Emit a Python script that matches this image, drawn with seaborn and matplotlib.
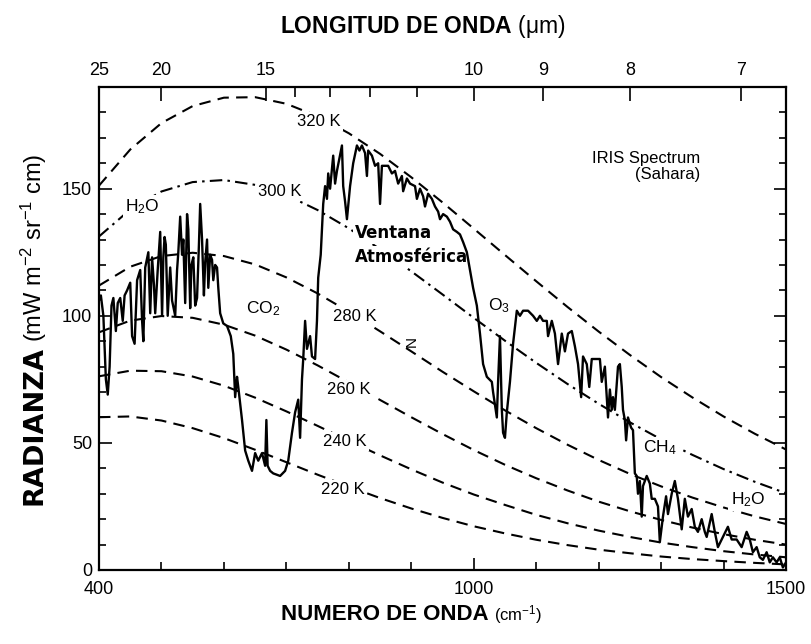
import matplotlib
matplotlib.use("Agg")
import matplotlib.pyplot as plt
import seaborn as sns

sns.set_theme(style="ticks")
plt.rcParams['font.family'] = ['Liberation Sans', 'DejaVu Sans']
plt.rcParams['mathtext.fontset'] = 'custom'
plt.rcParams['mathtext.rm'] = 'Liberation Sans'
plt.rcParams['mathtext.it'] = 'Liberation Sans:italic'
plt.rcParams['mathtext.bf'] = 'Liberation Sans:bold'
plt.rcParams['text.color'] = 'black'
plt.rcParams['axes.labelcolor'] = 'black'
plt.rcParams['xtick.color'] = 'black'
plt.rcParams['ytick.color'] = 'black'

# ---------------- data ----------------
planck_wn = [400, 450, 500, 550, 600, 650, 700, 750, 800, 850, 900, 950,
             1000, 1050, 1100, 1150, 1200, 1250, 1300, 1350, 1400, 1450, 1500]
b320 = [151.2, 165.4, 175.8, 182.5, 185.8, 186.0, 183.4, 178.5, 171.8, 163.7, 154.5, 144.6,
        134.3, 123.9, 113.6, 103.5, 93.8, 84.6, 75.9, 67.9, 60.4, 53.6, 47.4]
b300 = [131.2, 141.8, 148.9, 152.6, 153.4, 151.5, 147.5, 141.6, 134.4, 126.2, 117.5, 108.4,
        99.2, 90.2, 81.5, 73.2, 65.4, 58.1, 51.4, 45.3, 39.7, 34.7, 30.2]
b280 = [111.9, 119.3, 123.5, 124.8, 123.5, 120.2, 115.1, 108.8, 101.6, 93.9, 86.0, 78.0,
        70.3, 62.8, 55.8, 49.3, 43.3, 37.8, 32.9, 28.5, 24.6, 21.1, 18.1]
b260 = [93.5, 98.1, 99.9, 99.2, 96.5, 92.2, 86.7, 80.5, 73.8, 66.9, 60.1, 53.5,
        47.2, 41.4, 36.1, 31.3, 26.9, 23.1, 19.7, 16.7, 14.1, 11.9, 10.0]
b240 = [76.2, 78.4, 78.2, 76.1, 72.5, 67.8, 62.4, 56.7, 50.8, 45.1, 39.6, 34.4,
        29.7, 25.6, 21.7, 18.4, 15.5, 13.0, 10.8, 9.0, 7.4, 6.1, 5.0]
b220 = [60.1, 60.4, 58.8, 55.8, 51.9, 47.3, 42.4, 37.5, 32.8, 28.3, 24.2, 20.5,
        17.2, 14.4, 11.9, 9.8, 8.0, 6.6, 5.3, 4.3, 3.5, 2.8, 2.2]

spec_wn = [
    400, 403, 407, 411, 414, 417, 420, 423, 427, 430,
    434, 438, 441, 445, 450, 453, 457, 461, 466, 469,
    471, 474, 479, 482, 485, 488, 490, 494, 498, 501,
    503, 505, 507, 510, 514, 517, 522, 525, 527, 530,
    533, 535, 538, 541, 543, 546, 548, 551, 554, 557,
    560, 562, 565, 568, 570, 573, 575, 578, 581, 583,
    586, 589, 591, 594, 599, 605, 611, 615, 618, 621,
    623, 629, 634, 639, 645, 650, 655, 661, 666, 668,
    670, 674, 679, 690, 698, 703, 709, 714, 719, 722,
    725, 727, 730, 733, 738, 741, 746, 749, 751, 755,
    759, 762, 765, 767, 770, 775, 778, 781, 785, 789,
    791, 794, 797, 800, 802, 807, 813, 817, 821, 826,
    829, 831, 837, 842, 847, 850, 853, 858, 863, 869,
    874, 879, 885, 887, 893, 898, 906, 909, 914, 919,
    922, 927, 933, 938, 943, 946, 951, 957, 962, 967,
    973, 978, 983, 989, 994, 999, 1005, 1010, 1015, 1021,
    1029, 1031, 1037, 1039, 1042, 1045, 1047, 1050, 1053, 1058,
    1063, 1069, 1074, 1079, 1087, 1095, 1101, 1106, 1111, 1117,
    1119, 1125, 1130, 1135, 1141, 1146, 1151, 1157, 1162, 1167,
    1172, 1175, 1181, 1185, 1189, 1197, 1202, 1205, 1210, 1215,
    1218, 1221, 1223, 1226, 1231, 1234, 1237, 1239, 1242, 1244,
    1247, 1252, 1255, 1258, 1261, 1263, 1266, 1269, 1271, 1277,
    1282, 1285, 1290, 1295, 1298, 1303, 1308, 1311, 1317, 1322,
    1327, 1333, 1338, 1343, 1349, 1354, 1359, 1365, 1370, 1373,
    1381, 1386, 1391, 1399, 1407, 1413, 1421, 1429, 1437, 1442,
    1447, 1453, 1458, 1463, 1469, 1474, 1479, 1485, 1490, 1495,
    1500]
spec_rad = [
    106, 108, 100, 75, 69, 80, 104, 107, 94, 105,
    107, 98, 108, 110, 113, 92, 89, 114, 118, 98,
    90, 119, 125, 101, 123, 112, 101, 118, 133, 100,
    123, 131, 128, 100, 119, 106, 100, 118, 125, 139,
    124, 130, 105, 140, 134, 103, 120, 123, 104, 107,
    128, 144, 130, 108, 121, 130, 111, 124, 122, 114,
    120, 119, 111, 101, 97, 96, 92, 85, 68, 76,
    72, 59, 47, 43, 39, 46, 43, 46, 41, 59,
    41, 39, 38, 37, 39, 43, 54, 62, 67, 52,
    75, 83, 98, 87, 92, 84, 83, 98, 115, 124,
    144, 151, 146, 156, 150, 163, 152, 157, 162, 167,
    151, 145, 138, 146, 151, 160, 167, 165, 167, 164,
    155, 165, 163, 159, 160, 144, 159, 159, 159, 156,
    157, 152, 155, 149, 154, 152, 151, 146, 150, 147,
    143, 148, 146, 143, 141, 138, 140, 139, 137, 134,
    133, 132, 129, 125, 118, 111, 104, 93, 81, 76,
    74, 70, 60, 74, 92, 63, 54, 52, 62, 74,
    89, 102, 100, 102, 102, 100, 98, 100, 98, 98,
    92, 98, 93, 81, 93, 86, 93, 94, 88, 81,
    68, 84, 81, 72, 83, 83, 83, 74, 80, 60,
    71, 63, 68, 63, 80, 81, 72, 63, 59, 51,
    60, 56, 55, 38, 37, 30, 35, 21, 33, 37,
    34, 28, 28, 25, 11, 21, 29, 22, 30, 35,
    28, 16, 28, 21, 24, 17, 15, 20, 15, 13,
    22, 15, 9, 13, 17, 12, 12, 9, 15, 12,
    7, 9, 5, 4, 7, 3, 5, 3, 5, 1,
    3]

wavelength_ticks = [25, 20, 15, 10, 9, 8, 7]
wavelength_minor = [14, 13, 12, 11]
wn_ticks = [400, 1000, 1500]
wn_minor = [500, 600, 700, 800, 900, 1100, 1200, 1300, 1400]
y_ticks = [0, 50, 100, 150]
y_minor = [10, 20, 30, 40, 60, 70, 80, 90, 110, 120, 130, 140, 160, 170, 180]

curve_labels = [("320 K", 752, 176.4), ("300 K", 690, 149.0), ("280 K", 810, 99.6),
                ("260 K", 800, 71.0), ("240 K", 794, 50.4), ("220 K", 791, 31.5)]
gas_labels = [("H$_2$O", 469, 143), ("CO$_2$", 663, 103), ("O$_3$", 1040, 104),
              ("CH$_4$", 1298, 48), ("H$_2$O", 1439, 27.6)]

# ---------------- figure ----------------
W, H = 811, 644
fig = plt.figure(figsize=(W / 100, H / 100), dpi=100)
fig.patch.set_facecolor('white')
ax = fig.add_axes([99 / W, 1 - 570 / H, 687 / W, 483 / H])
ax.set_facecolor('white')

dash = (0, (5.5, 3.5))
for vals in [b320, b280, b260, b240, b220]:
    sns.lineplot(x=planck_wn, y=vals, ax=ax, color='black', linewidth=1.5,
                 linestyle=dash, estimator=None, sort=False, zorder=2)
sns.lineplot(x=planck_wn, y=b300, ax=ax, color='black', linewidth=1.5,
             linestyle=(0, (6, 2.5, 1.2, 2.5)), estimator=None, sort=False, zorder=2)

sns.lineplot(x=spec_wn, y=spec_rad, ax=ax, color='black', linewidth=1.7,
             estimator=None, sort=False, zorder=5)

box = dict(facecolor='white', edgecolor='none', pad=1.5)
for txt, x, y in curve_labels:
    ax.text(x, y, txt, ha='center', va='center', fontsize=12, zorder=4, bbox=box)
for txt, x, y in gas_labels:
    ax.text(x, y, txt, ha='center', va='center', fontsize=12.5, zorder=4, bbox=box)

ax.text(810, 132.7, "Ventana", ha='left', va='center', fontsize=12,
        family=['DejaVu Sans'], fontweight='bold', zorder=4, bbox=box)
ax.text(810, 123.2, "Atmosférica", ha='left', va='center', fontsize=12,
        family=['DejaVu Sans'], fontweight='bold', zorder=4, bbox=box)
ax.text(901, 90, "N", ha='center', va='center', fontsize=11, rotation=90, zorder=4)
ax.text(1362, 158.7, "IRIS Spectrum\n(Sahara)", ha='right', va='center',
        multialignment='right', fontsize=12, linespacing=1.15, zorder=4)

ax.set_xlim(400, 1500)
ax.set_ylim(0, 190)
ax.set_xlabel("")
ax.set_ylabel("")
ax.set_xticks(wn_ticks)
ax.set_xticks(wn_minor, minor=True)
ax.set_yticks(y_ticks)
ax.set_yticks(y_minor, minor=True)
ax.tick_params(axis='x', which='major', direction='in', length=9, width=1.2,
               labelsize=13, pad=8, colors='black', top=False)
ax.tick_params(axis='x', which='minor', direction='in', length=6, width=1.2, top=False)
ax.tick_params(axis='y', which='major', direction='in', length=9, width=1.2,
               labelsize=13, pad=5, colors='black', left=True, right=True, labelright=False)
ax.tick_params(axis='y', which='minor', direction='in', length=5, width=1.2,
               left=True, right=True)
for s in ax.spines.values():
    s.set_visible(True)
    s.set_color('black')
    s.set_linewidth(1.6)

ax2 = ax.twiny()
ax2.set_xlim(400, 1500)
ax2.set_xticks([1e4 / l for l in wavelength_ticks])
ax2.set_xticklabels([str(l) for l in wavelength_ticks])
ax2.set_xticks([1e4 / l for l in wavelength_minor], minor=True)
ax2.tick_params(axis='x', which='major', direction='in', length=10, width=1.2,
                labelsize=13, pad=6, colors='black')
ax2.tick_params(axis='x', which='minor', direction='in', length=7, width=1.2)
for s in ax2.spines.values():
    s.set_visible(False)

# axis titles
fig.text(423 / W, 1 - 27 / H, r"$\mathbf{LONGITUD\ DE\ ONDA}$ (μm)",
         ha='center', va='center', fontsize=16.5, color='black')
fig.text(489 / W, 1 - 620 / H, "NUMERO DE ONDA", ha='right', va='baseline',
         fontsize=16, fontweight='bold', color='black')
fig.text(494 / W, 1 - 620 / H, r"(cm$^{-1}$)", ha='left', va='baseline', fontsize=12,
         color='black')
fig.text(42 / W, 1 - 505 / H, "RADIANZA", ha='left', va='baseline', rotation=90,
         rotation_mode='anchor', fontsize=19.5, fontweight='bold',
         family=['DejaVu Sans'], color='black')
fig.text(42 / W, 1 - 342 / H, r"(mW m$^{-2}$ sr$^{-1}$ cm)", ha='left', va='baseline',
         rotation=90, rotation_mode='anchor', fontsize=17, color='black')

fig.savefig("out.png", dpi=100, facecolor='white')
